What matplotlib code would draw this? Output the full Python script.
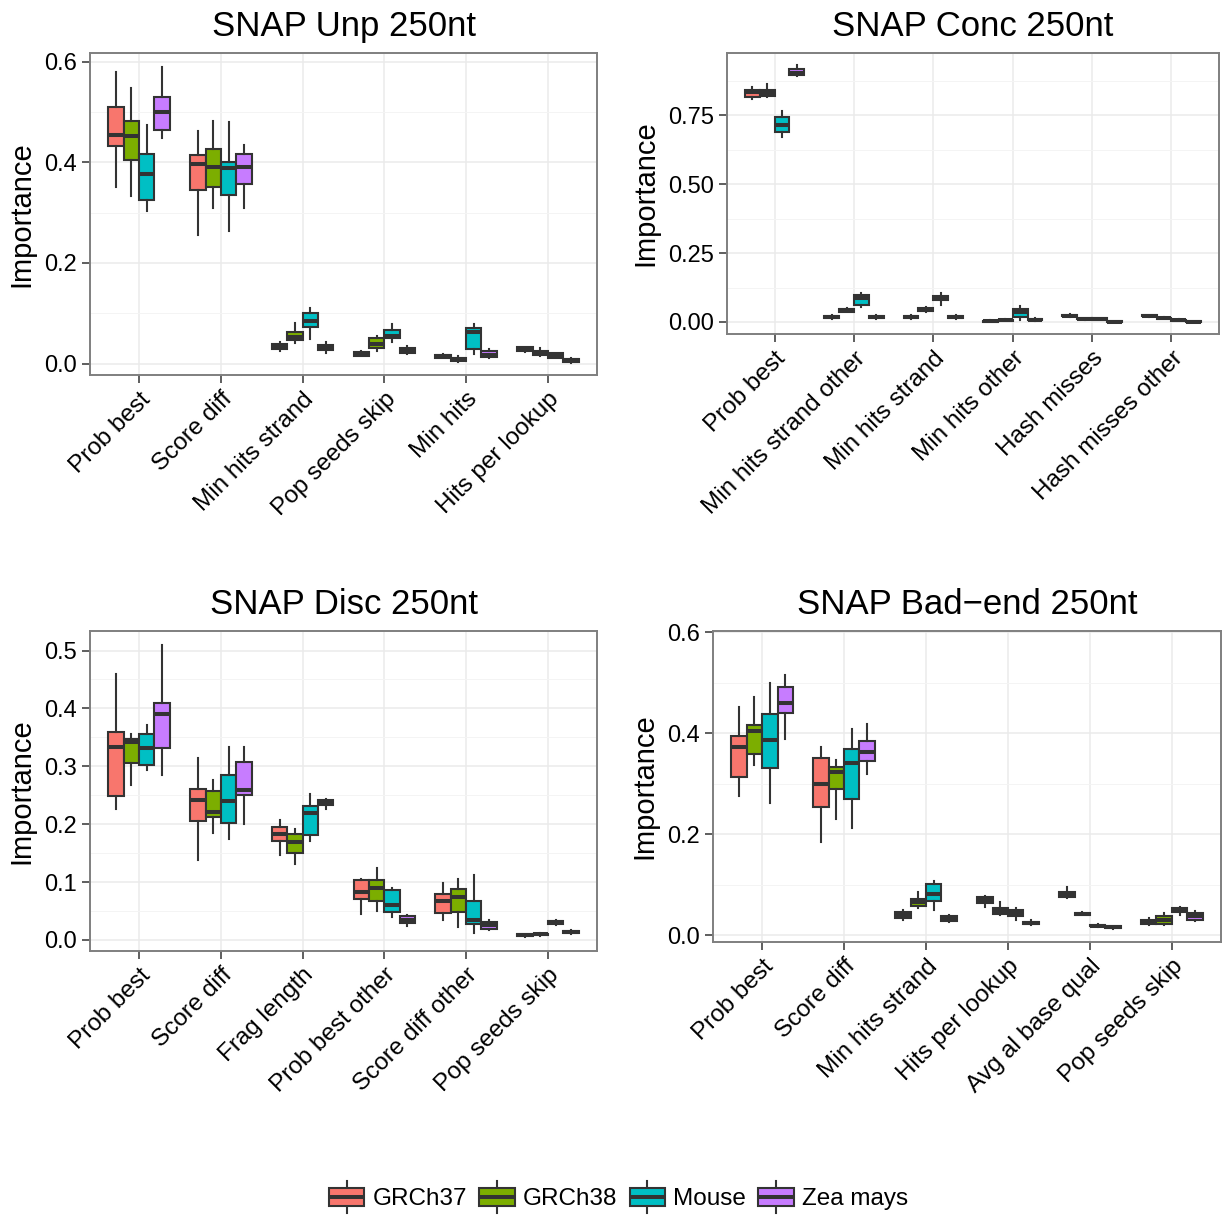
import matplotlib
matplotlib.use("Agg")
import matplotlib.pyplot as plt
from matplotlib.patches import Rectangle, Patch
from matplotlib.lines import Line2D
from matplotlib.legend_handler import HandlerBase
from matplotlib.ticker import FixedLocator, FormatStrFormatter

plt.rcParams['font.family'] = ['Liberation Sans', 'DejaVu Sans']

# Series names and fill colours
series = ["GRCh37", "GRCh38", "Mouse", "Zea mays"]
colors = ["#F8766D", "#7CAE00", "#00BFC4", "#C77CFF"]

# Each entry: (whisker low, Q1, median, Q3, whisker high)
# --- SNAP Unp 250nt ---
unp_cats = ["Prob best", "Score diff", "Min hits strand", "Pop seeds skip",
            "Min hits", "Hits per lookup"]
unp_grch37 = [(0.351, 0.433, 0.454, 0.510, 0.580), (0.255, 0.344, 0.397, 0.414, 0.462),
              (0.025, 0.029, 0.034, 0.0385, 0.044), (0.0146, 0.016, 0.020, 0.023, 0.025),
              (0.011, 0.012, 0.0153, 0.0173, 0.0186), (0.023, 0.0246, 0.0286, 0.0326, 0.034)]
unp_grch38 = [(0.333, 0.405, 0.452, 0.481, 0.547), (0.310, 0.350, 0.391, 0.426, 0.482),
              (0.0405, 0.048, 0.053, 0.063, 0.080), (0.026, 0.031, 0.040, 0.050, 0.054),
              (0.004, 0.006, 0.0093, 0.012, 0.0146), (0.0146, 0.017, 0.021, 0.025, 0.0306)]
unp_mouse = [(0.303, 0.326, 0.376, 0.417, 0.474), (0.263, 0.334, 0.389, 0.400, 0.479),
             (0.0485, 0.072, 0.084, 0.100, 0.110), (0.044, 0.050, 0.054, 0.066, 0.078),
             (0.019, 0.030, 0.063, 0.070, 0.078), (0.011, 0.012, 0.0166, 0.0206, 0.022)]
unp_zea = [(0.449, 0.464, 0.500, 0.529, 0.589), (0.310, 0.356, 0.391, 0.417, 0.435),
           (0.022, 0.027, 0.032, 0.037, 0.044), (0.019, 0.021, 0.026, 0.031, 0.035),
           (0.0106, 0.013, 0.0173, 0.025, 0.0286), (0.002, 0.0033, 0.0066, 0.010, 0.011)]

# --- SNAP Conc 250nt ---
conc_cats = ["Prob best", "Min hits strand other", "Min hits strand", "Min hits other",
             "Hash misses", "Hash misses other"]
conc_grch37 = [(0.809, 0.8165, 0.835, 0.841, 0.853), (0.011, 0.0135, 0.018, 0.0225, 0.025),
               (0.011, 0.0135, 0.018, 0.0225, 0.025), (0.000, 0.0005, 0.002, 0.004, 0.006),
               (0.019, 0.020, 0.023, 0.026, 0.028), (0.018, 0.020, 0.022, 0.024, 0.026)]
conc_grch38 = [(0.817, 0.819, 0.831, 0.843, 0.864), (0.035, 0.037, 0.042, 0.047, 0.0496),
               (0.037, 0.040, 0.045, 0.050, 0.053), (0.003, 0.005, 0.007, 0.009, 0.011),
               (0.009, 0.010, 0.012, 0.014, 0.016), (0.010, 0.011, 0.013, 0.015, 0.017)]
conc_mouse = [(0.671, 0.688, 0.716, 0.743, 0.767), (0.053, 0.062, 0.088, 0.098, 0.105),
              (0.063, 0.078, 0.086, 0.095, 0.105), (0.006, 0.018, 0.036, 0.047, 0.059),
              (0.008, 0.009, 0.011, 0.013, 0.015), (0.004, 0.005, 0.007, 0.009, 0.011)]
conc_zea = [(0.892, 0.896, 0.904, 0.919, 0.931), (0.011, 0.0135, 0.018, 0.0225, 0.025),
            (0.011, 0.0135, 0.018, 0.0225, 0.025), (0.004, 0.006, 0.0085, 0.011, 0.013),
            (0.000, 0.0005, 0.001, 0.003, 0.005), (0.000, 0.0005, 0.001, 0.003, 0.005)]

# --- SNAP Disc 250nt ---
disc_cats = ["Prob best", "Score diff", "Frag length", "Prob best other",
             "Score diff other", "Pop seeds skip"]
disc_grch37 = [(0.227, 0.249, 0.334, 0.360, 0.459), (0.139, 0.206, 0.242, 0.260, 0.315),
               (0.146, 0.171, 0.183, 0.1945, 0.208), (0.045, 0.070, 0.083, 0.1036, 0.106),
               (0.0345, 0.047, 0.068, 0.079, 0.099), (0.006, 0.007, 0.0086, 0.010, 0.011)]
disc_grch38 = [(0.267, 0.305, 0.342, 0.348, 0.355), (0.185, 0.212, 0.2215, 0.257, 0.276),
               (0.132, 0.150, 0.169, 0.183, 0.192), (0.0506, 0.068, 0.089, 0.1036, 0.124),
               (0.023, 0.048, 0.075, 0.0875, 0.1047), (0.007, 0.008, 0.0098, 0.011, 0.012)]
disc_mouse = [(0.293, 0.303, 0.331, 0.355, 0.371), (0.174, 0.2025, 0.2405, 0.285, 0.334),
              (0.171, 0.182, 0.220, 0.231, 0.253), (0.039, 0.048, 0.060, 0.0857, 0.089),
              (0.0127, 0.027, 0.0345, 0.0673, 0.112), (0.026, 0.028, 0.0305, 0.0325, 0.035)]
disc_zea = [(0.285, 0.332, 0.391, 0.410, 0.509), (0.201, 0.251, 0.259, 0.307, 0.333),
            (0.2255, 0.234, 0.238, 0.242, 0.243), (0.0247, 0.030, 0.0345, 0.042, 0.043),
            (0.0173, 0.019, 0.026, 0.031, 0.0345), (0.011, 0.012, 0.0138, 0.0155, 0.0165)]

# --- SNAP Bad-end 250nt ---
bad_cats = ["Prob best", "Score diff", "Min hits strand", "Hits per lookup",
            "Avg al base qual", "Pop seeds skip"]
bad_grch37 = [(0.275, 0.313, 0.373, 0.394, 0.452), (0.184, 0.254, 0.300, 0.350, 0.373),
              (0.029, 0.0336, 0.040, 0.0454, 0.050), (0.055, 0.063, 0.070, 0.075, 0.078),
              (0.073, 0.075, 0.080, 0.085, 0.096), (0.019, 0.022, 0.0257, 0.030, 0.034)]
bad_grch38 = [(0.336, 0.358, 0.404, 0.416, 0.472), (0.230, 0.289, 0.322, 0.332, 0.346),
              (0.054, 0.057, 0.066, 0.071, 0.086), (0.039, 0.041, 0.047, 0.054, 0.065),
              (0.0395, 0.040, 0.042, 0.044, 0.045), (0.020, 0.0224, 0.030, 0.037, 0.044)]
bad_mouse = [(0.261, 0.330, 0.386, 0.437, 0.4985), (0.212, 0.269, 0.340, 0.368, 0.408),
             (0.0487, 0.0665, 0.082, 0.101, 0.107), (0.030, 0.038, 0.044, 0.049, 0.054),
             (0.016, 0.017, 0.0184, 0.020, 0.021), (0.040, 0.045, 0.050, 0.054, 0.055)]
bad_zea = [(0.388, 0.439, 0.460, 0.491, 0.514), (0.319, 0.344, 0.3615, 0.385, 0.4175),
           (0.025, 0.027, 0.032, 0.037, 0.040), (0.0205, 0.022, 0.0237, 0.026, 0.029),
           (0.012, 0.013, 0.015, 0.017, 0.018), (0.027, 0.030, 0.038, 0.0435, 0.047)]

W, H = 1225, 1216
fig = plt.figure(figsize=(W / 100, H / 100), dpi=100)
EDGE = "#333333"


def add_axes(left, right, top, bottom):
    return fig.add_axes([left / W, 1 - bottom / H, (right - left) / W, (bottom - top) / H])


panels = [
    dict(title="SNAP Unp 250nt", cats=unp_cats,
         data=[unp_grch37, unp_grch38, unp_mouse, unp_zea],
         box=(90, 597, 53, 375), ylim=(-0.0225, 0.617),
         major=[0, 0.2, 0.4, 0.6], minor=[0.1, 0.3, 0.5], fmt="%.1f"),
    dict(title="SNAP Conc 250nt", cats=conc_cats,
         data=[conc_grch37, conc_grch38, conc_mouse, conc_zea],
         box=(727, 1219, 53, 334), ylim=(-0.0436, 0.976),
         major=[0, 0.25, 0.5, 0.75], minor=[0.125, 0.375, 0.625, 0.875], fmt="%.2f"),
    dict(title="SNAP Disc 250nt", cats=disc_cats,
         data=[disc_grch37, disc_grch38, disc_mouse, disc_zea],
         box=(90, 597, 631, 951), ylim=(-0.019, 0.5337),
         major=[0, 0.1, 0.2, 0.3, 0.4, 0.5],
         minor=[0.05, 0.15, 0.25, 0.35, 0.45], fmt="%.1f"),
    dict(title="SNAP Bad\u2212end 250nt", cats=bad_cats,
         data=[bad_grch37, bad_grch38, bad_mouse, bad_zea],
         box=(713, 1221, 631, 942), ylim=(-0.0138, 0.602),
         major=[0, 0.2, 0.4, 0.6], minor=[0.1, 0.3, 0.5], fmt="%.1f"),
]

dodge = 0.75 / len(series)

for p in panels:
    ax = add_axes(*p["box"])
    ax.set_facecolor("white")
    ncat = len(p["cats"])
    for j, (ser, col) in enumerate(zip(p["data"], colors)):
        stats = [dict(whislo=s[0], q1=s[1], med=s[2], q3=s[3], whishi=s[4], fliers=[])
                 for s in ser]
        pos = [i + 1 + (j - 1.5) * dodge for i in range(ncat)]
        ax.bxp(stats, positions=pos, widths=dodge, patch_artist=True, showcaps=False,
               showfliers=False, manage_ticks=False,
               boxprops=dict(facecolor=col, edgecolor=EDGE, linewidth=1.5),
               medianprops=dict(color=EDGE, linewidth=2.9, solid_capstyle="butt"),
               whiskerprops=dict(color=EDGE, linewidth=1.5))
    ax.set_xlim(0.4, ncat + 0.6)
    ax.set_ylim(*p["ylim"])
    ax.set_xticks(range(1, ncat + 1))
    ax.set_xticklabels(p["cats"], rotation=45, ha="right", va="top",
                       rotation_mode="anchor", fontsize=17.5, color="black")
    ax.yaxis.set_major_locator(FixedLocator(p["major"]))
    ax.yaxis.set_minor_locator(FixedLocator(p["minor"]))
    ax.yaxis.set_major_formatter(FormatStrFormatter(p["fmt"]))
    ax.tick_params(axis="both", which="major", length=5.5, width=1.1, color="#333333",
                   labelcolor="black", pad=4)
    ax.tick_params(axis="y", which="major", labelsize=17)
    ax.tick_params(axis="y", which="minor", length=0)
    ax.grid(True, which="major", color="#EBEBEB", linewidth=1.1)
    ax.grid(True, which="minor", axis="y", color="#F4F4F4", linewidth=0.7)
    ax.set_axisbelow(True)
    for sp in ax.spines.values():
        sp.set_color("#7F7F7F")
        sp.set_linewidth(1.4)
    ax.set_title(p["title"], fontsize=25, pad=12)
    ax.set_ylabel("Importance", fontsize=21, labelpad=6)


class BoxKey(HandlerBase):
    def create_artists(self, legend, orig_handle, xdescent, ydescent,
                       width, height, fontsize, trans):
        fc = orig_handle.get_facecolor()
        x0, y0 = -xdescent, -ydescent
        xm = x0 + width / 2
        w_lo = Line2D([xm, xm], [y0, y0 + 0.2 * height], color=EDGE, lw=1.5, transform=trans)
        w_hi = Line2D([xm, xm], [y0 + 0.8 * height, y0 + height], color=EDGE, lw=1.5,
                      transform=trans)
        rect = Rectangle((x0, y0 + 0.2 * height), width, 0.6 * height, facecolor=fc,
                         edgecolor=EDGE, lw=1.5, transform=trans)
        med = Line2D([x0, x0 + width], [y0 + 0.5 * height] * 2, color=EDGE, lw=2.9,
                     solid_capstyle="butt", transform=trans)
        return [w_lo, w_hi, rect, med]


handles = [Patch(facecolor=c, label=s) for s, c in zip(series, colors)]
fig.legend(handles=handles, loc="center", bbox_to_anchor=(0.505, 0.0156), ncol=4,
           frameon=False, fontsize=17.5, handler_map={Patch: BoxKey()},
           handlelength=1.45, handleheight=1.6, handletextpad=0.35, columnspacing=0.5)

fig.savefig("out.png", dpi=100)
